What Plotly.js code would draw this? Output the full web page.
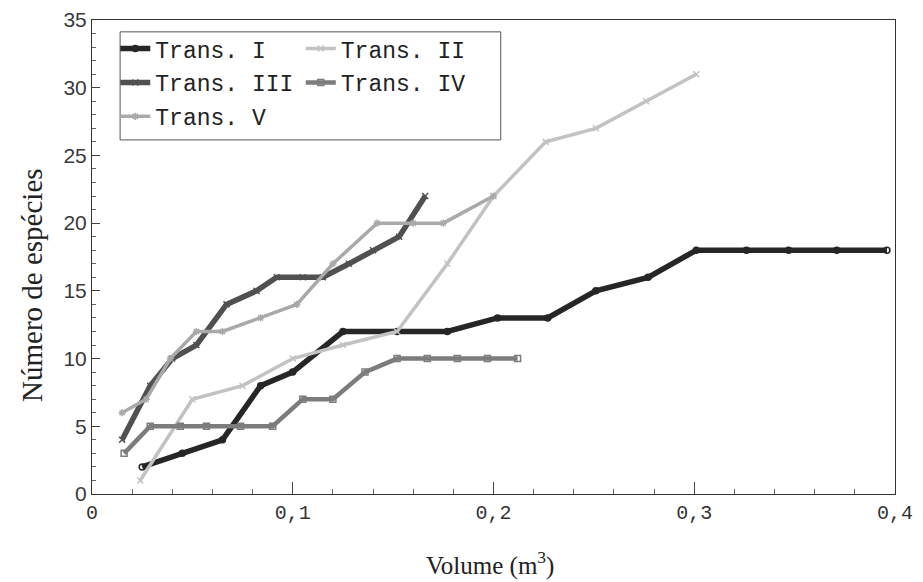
<!DOCTYPE html>
<html>
<head>
<meta charset="utf-8">
<script src="https://cdn.plot.ly/plotly-3.0.1.min.js"></script>
<style>
  html, body { margin: 0; padding: 0; background: #ffffff; }
  #chart { width: 923px; height: 582px; }
</style>
</head>
<body>
<div id="chart"></div>
<script>
// Species accumulation per transect: sampled volume (m³) vs. number of species
var transIName = 'Trans. I';
var transIX = [0.025, 0.045, 0.065, 0.084, 0.1, 0.125, 0.152, 0.177, 0.202, 0.227, 0.251, 0.277, 0.301, 0.326, 0.347, 0.371, 0.396];
var transIY = [2, 3, 4, 8, 9, 12, 12, 12, 13, 13, 15, 16, 18, 18, 18, 18, 18];

var transIIName = 'Trans. II';
var transIIX = [0.024, 0.05, 0.075, 0.1, 0.125, 0.152, 0.177, 0.2, 0.226, 0.251, 0.276, 0.301];
var transIIY = [1, 7, 8, 10, 11, 12, 17, 22, 26, 27, 29, 31];

var transIIIName = 'Trans. III';
var transIIIX = [0.015, 0.029, 0.04, 0.052, 0.067, 0.082, 0.092, 0.105, 0.115, 0.128, 0.14, 0.153, 0.166];
var transIIIY = [4, 8, 10, 11, 14, 15, 16, 16, 16, 17, 18, 19, 22];

var transIVName = 'Trans. IV';
var transIVX = [0.016, 0.029, 0.044, 0.057, 0.074, 0.09, 0.105, 0.12, 0.136, 0.152, 0.167, 0.182, 0.197, 0.212];
var transIVY = [3, 5, 5, 5, 5, 5, 7, 7, 9, 10, 10, 10, 10, 10];

var transVName = 'Trans. V';
var transVX = [0.015, 0.027, 0.039, 0.052, 0.065, 0.084, 0.102, 0.12, 0.142, 0.16, 0.175, 0.2];
var transVY = [6, 7, 10, 12, 12, 13, 14, 17, 20, 20, 20, 22];

var xTitle = 'Volume (m<sup>3</sup>)';
var yTitle = 'Número de espécies';

function series(name, xs, ys, color, width, symbol, legendId) {
  return {
    type: 'scatter', mode: 'lines+markers', name: name,
    x: xs, y: ys,
    line: { color: color, width: width },
    marker: { symbol: symbol, size: 6, color: color, line: { color: color, width: 1.5 } },
    legend: legendId, legendgroup: name
  };
}

// left legend column holds I, III, V; right column holds II, IV
var traces = [
  series(transIName, transIX, transIY, '#262626', 5.5, 'circle-open', 'legend'),
  series(transIIName, transIIX, transIIY, '#c2c2c2', 3.5, 'x-thin-open', 'legend2'),
  series(transIIIName, transIIIX, transIIIY, '#505050', 5.5, 'x-thin-open', 'legend'),
  series(transIVName, transIVX, transIVY, '#7c7c7c', 4.5, 'square-open', 'legend2'),
  series(transVName, transVX, transVY, '#a9a9a9', 3.5, 'asterisk-open', 'legend')
];

var legendFont = { family: 'Liberation Mono, Courier New, monospace', size: 23, color: '#222' };
var titleFont = { family: 'Liberation Serif, Times New Roman, serif', color: '#222' };

var layout = {
  width: 923, height: 582,
  margin: { l: 92, r: 28, t: 20, b: 88 },
  paper_bgcolor: '#ffffff', plot_bgcolor: '#ffffff',
  separators: ',.',
  showlegend: true,
  xaxis: {
    range: [0, 0.4], dtick: 0.1, tick0: 0,
    ticks: 'inside', ticklen: 12, tickwidth: 1, tickcolor: '#444',
    minor: { dtick: 0.02, ticks: 'inside', ticklen: 5, tickcolor: '#666' },
    showgrid: false, zeroline: false,
    showline: true, linecolor: '#333', linewidth: 1, mirror: true,
    tickfont: { family: 'Liberation Mono, Courier New, monospace', size: 20, color: '#333' }
  },
  yaxis: {
    range: [0, 35], dtick: 5, tick0: 0,
    ticks: 'inside', ticklen: 8, tickwidth: 1, tickcolor: '#444',
    minor: { dtick: 1, ticks: 'inside', ticklen: 4, tickcolor: '#666' },
    showgrid: false, zeroline: false,
    showline: true, linecolor: '#333', linewidth: 1, mirror: true,
    tickfont: { family: 'Liberation Sans, Arial, sans-serif', size: 21, color: '#3a3a3a' }
  },
  legend: {
    x: 0.029, y: 0.985, xanchor: 'left', yanchor: 'top',
    bgcolor: 'rgba(0,0,0,0)', borderwidth: 0,
    traceorder: 'grouped', tracegroupgap: 1,
    itemwidth: 30, font: legendFont
  },
  legend2: {
    x: 0.26, y: 0.985, xanchor: 'left', yanchor: 'top',
    bgcolor: 'rgba(0,0,0,0)', borderwidth: 0,
    traceorder: 'grouped', tracegroupgap: 1,
    itemwidth: 30, font: legendFont
  },
  shapes: [{
    type: 'rect', xref: 'paper', yref: 'paper',
    x0: 0.035, x1: 0.509, y0: 0.747, y1: 0.975,
    line: { color: '#555', width: 1 }, fillcolor: 'rgba(0,0,0,0)'
  }],
  annotations: [
    { text: xTitle, xref: 'paper', yref: 'paper', x: 0.4956, y: -0.1456,
      xanchor: 'center', yanchor: 'middle', showarrow: false,
      font: Object.assign({ size: 25 }, titleFont) },
    { text: yTitle, xref: 'paper', yref: 'paper', x: -0.0747, y: 0.441,
      xanchor: 'center', yanchor: 'middle', showarrow: false, textangle: -90,
      font: Object.assign({ size: 29 }, titleFont) }
  ]
};

Plotly.newPlot('chart', traces, layout, { displayModeBar: false, staticPlot: true });
</script>
</body>
</html>
